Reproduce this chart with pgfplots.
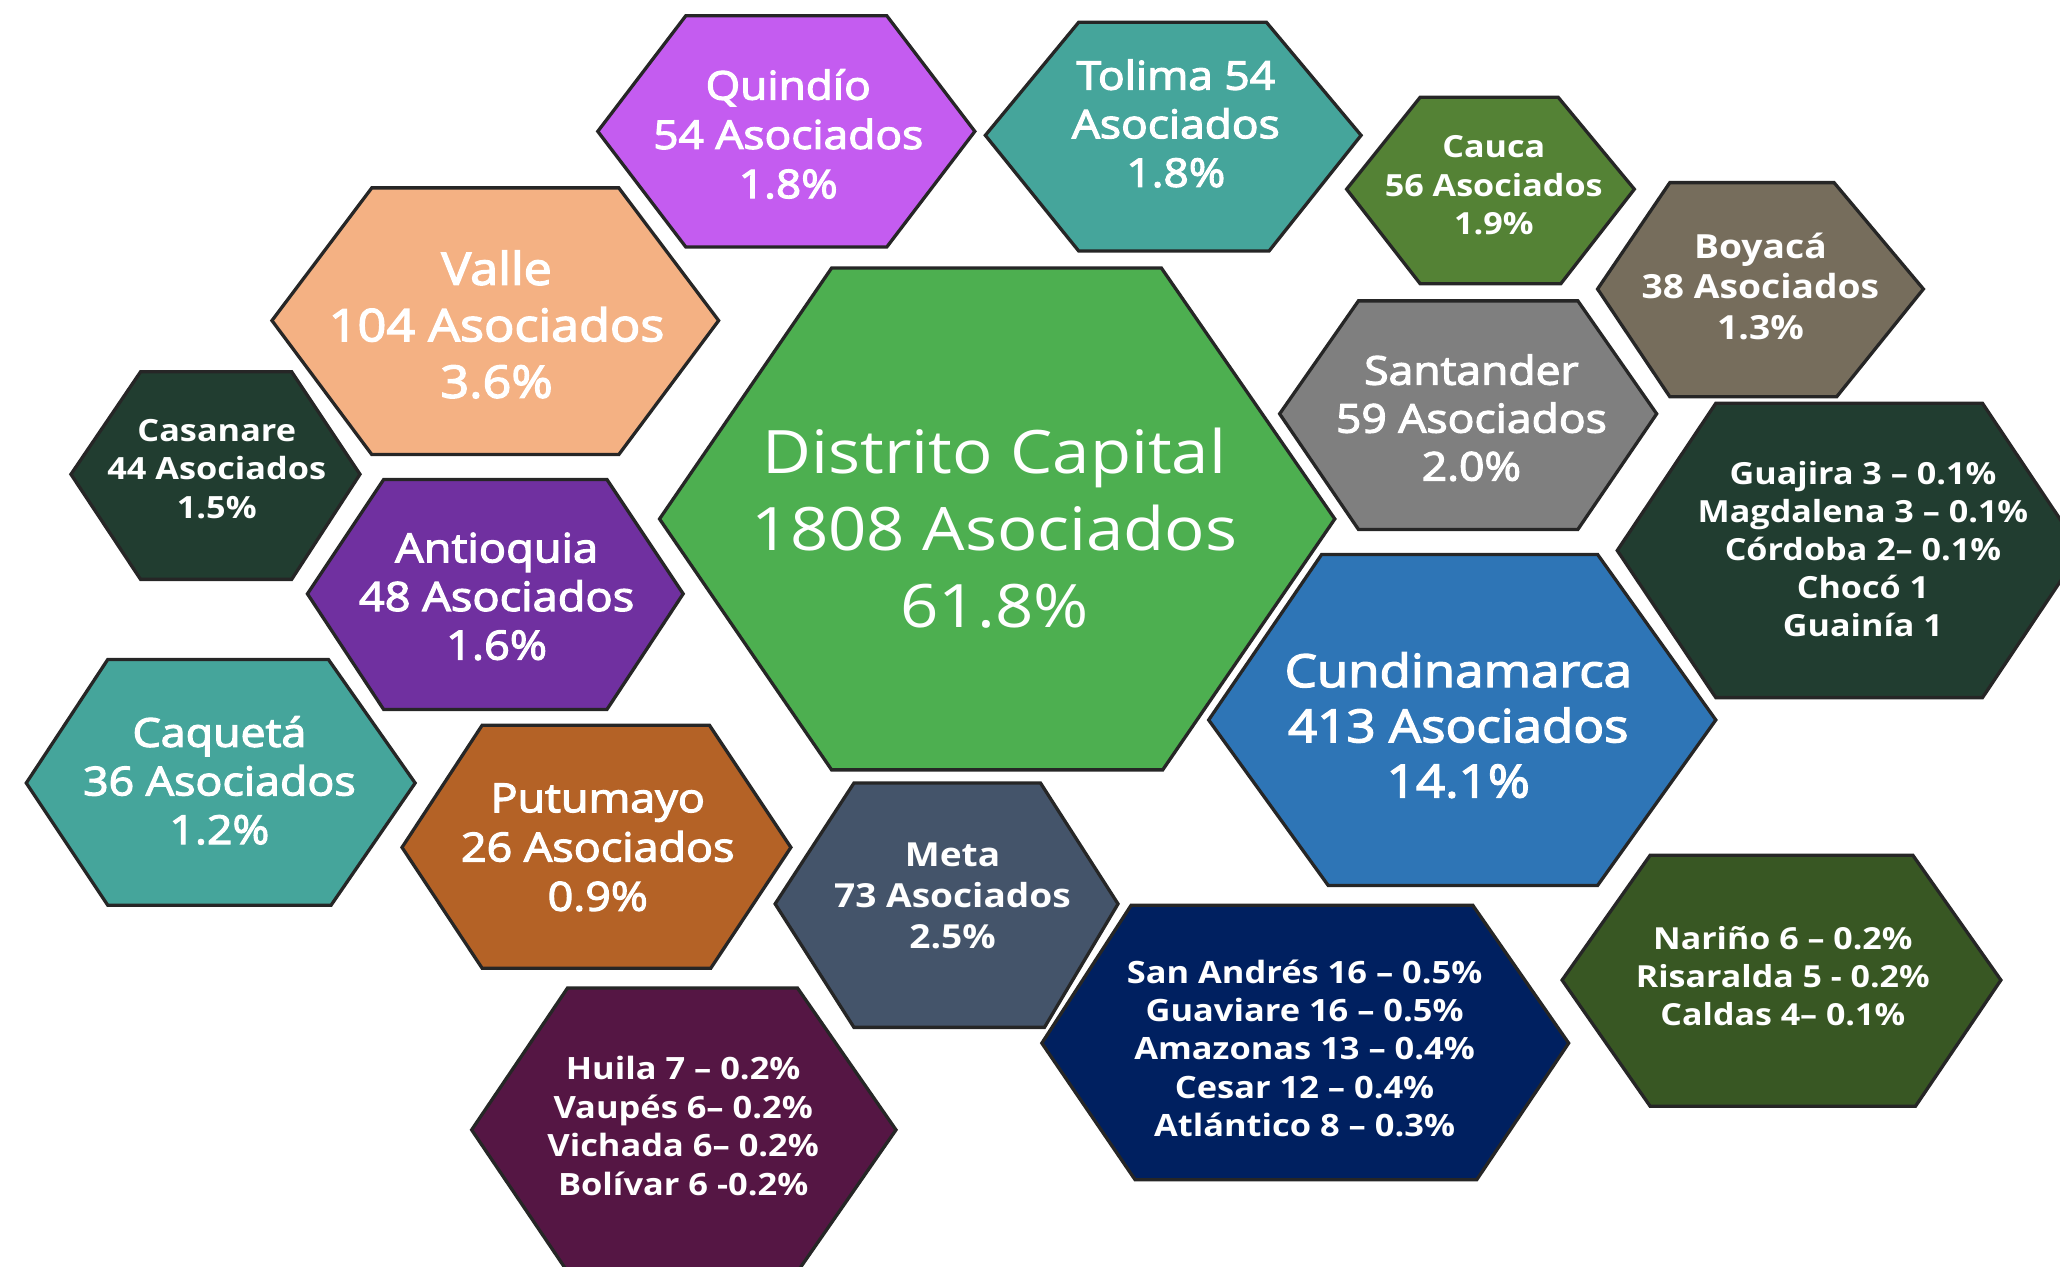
\documentclass[border=0pt]{standalone}
\usepackage{pgfplots}
\pgfplotsset{compat=1.18}
\usepackage{fontspec}
\setmainfont{Open Sans}[FakeStretch=1.12]
\newfontfamily\semib{Open Sans}[FakeStretch=1.12, FakeBold=3]
\definecolor{cQuin}{RGB}{196,92,240}
\definecolor{cTeal}{RGB}{69,165,155}
\definecolor{cCauca}{RGB}{84,130,53}
\definecolor{cBoy}{RGB}{118,109,92}
\definecolor{cValle}{RGB}{244,177,131}
\definecolor{cDC}{RGB}{77,175,80}
\definecolor{cSant}{RGB}{127,127,127}
\definecolor{cDkGreen}{RGB}{33,61,48}
\definecolor{cAnt}{RGB}{112,48,160}
\definecolor{cCund}{RGB}{46,117,182}
\definecolor{cPut}{RGB}{180,98,38}
\definecolor{cMeta}{RGB}{68,84,106}
\definecolor{cNar}{RGB}{56,87,35}
\definecolor{cNavy}{RGB}{0,32,96}
\definecolor{cHuila}{RGB}{85,22,68}
\begin{document}
\begin{tikzpicture}[
  hex/.style={draw=black!85, line width=2.5pt, line join=miter},
  lbl/.style={text=white, align=center, inner sep=0pt},
]
\useasboundingbox (0,0) rectangle (1568pt,964pt);
\begin{axis}[
  at={(0,0)}, anchor=south west,
  scale only axis, width=1568pt, height=964pt,
  xmin=0, xmax=1568, ymin=0, ymax=964, y dir=reverse,
  hide axis, clip=true,
]
% Quindio
\addplot[hex, mark=none, fill=cQuin] coordinates {(455,100) (522,12) (675,12) (742,100) (675,188) (522,188)} -- cycle;
% Tolima
\addplot[hex, mark=none, fill=cTeal] coordinates {(750,103) (821,17) (964,17) (1036,103) (966,191) (821,191)} -- cycle;
% Cauca
\addplot[hex, mark=none, fill=cCauca] coordinates {(1025,144) (1081,74) (1186,74) (1244,144) (1188,216) (1081,216)} -- cycle;
% Boyaca
\addplot[hex, mark=none, fill=cBoy] coordinates {(1216,220) (1271,139) (1396,139) (1464,220) (1398,302) (1271,302)} -- cycle;
% Valle
\addplot[hex, mark=none, fill=cValle] coordinates {(207,244) (283,143) (471,143) (547,244) (471,346) (283,346)} -- cycle;
% Distrito Capital
\addplot[hex, mark=none, fill=cDC] coordinates {(502,395) (633,204) (884,204) (1016,395) (885,586) (633,586)} -- cycle;
% Santander
\addplot[hex, mark=none, fill=cSant] coordinates {(974,315) (1034,229) (1201,229) (1261,315) (1201,403) (1034,403)} -- cycle;
% Casanare
\addplot[hex, mark=none, fill=cDkGreen] coordinates {(54,361) (107,283) (222,283) (274,361) (222,441) (107,441)} -- cycle;
% Antioquia
\addplot[hex, mark=none, fill=cAnt] coordinates {(234,452) (292,365) (462,365) (520,452) (462,540) (292,540)} -- cycle;
% Guajira group
\addplot[hex, mark=none, fill=cDkGreen] coordinates {(1231,419) (1306,307) (1509,307) (1584,419) (1509,531) (1306,531)} -- cycle;
% Cundinamarca
\addplot[hex, mark=none, fill=cCund] coordinates {(920,548) (1006,422) (1216,422) (1306,548) (1216,674) (1011,674)} -- cycle;
% Caqueta
\addplot[hex, mark=none, fill=cTeal] coordinates {(20,596) (82,502) (250,502) (316,596) (252,689) (82,689)} -- cycle;
% Putumayo
\addplot[hex, mark=none, fill=cPut] coordinates {(306,645) (367,552) (540,552) (602,645) (541,737) (367,737)} -- cycle;
% Meta
\addplot[hex, mark=none, fill=cMeta] coordinates {(590,688) (650,596) (792,596) (851,688) (795,782) (650,782)} -- cycle;
% Narino group
\addplot[hex, mark=none, fill=cNar] coordinates {(1189,746) (1256,651) (1456,651) (1523,746) (1458,842) (1256,842)} -- cycle;
% San Andres group
\addplot[hex, mark=none, fill=cNavy] coordinates {(793,794) (861,689) (1121,689) (1194,794) (1124,898) (864,898)} -- cycle;
% Huila group
\addplot[hex, mark=none, fill=cHuila] coordinates {(359,860) (432,752) (607,752) (682,860) (607,968) (432,968)} -- cycle;

\node[lbl, font=\semib\fontsize{30.1}{37.5}\selectfont] at (axis cs:600,102) {Quindío\\54 Asociados\\1.8\%};
\node[lbl, font=\semib\fontsize{30.1}{37}\selectfont] at (axis cs:895,94) {Tolima 54\\Asociados\\1.8\%};
\node[lbl, font=\bfseries\fontsize{23.2}{29}\selectfont] at (axis cs:1137,141) {Cauca\\56 Asociados\\1.9\%};
\node[lbl, font=\bfseries\fontsize{25.3}{31}\selectfont] at (axis cs:1340,218) {Boyacá\\38 Asociados\\1.3\%};
\node[lbl, font=\semib\fontsize{34.2}{43}\selectfont] at (axis cs:378,247) {Valle\\104 Asociados\\3.6\%};
\node[lbl, font=\fontsize{45.6}{58.5}\selectfont] at (axis cs:757,402) {Distrito Capital\\1808 Asociados\\61.8\%};
\node[lbl, font=\semib\fontsize{30.2}{36.5}\selectfont] at (axis cs:1120,318) {Santander\\59 Asociados\\2.0\%};
\node[lbl, font=\bfseries\fontsize{23.3}{29.5}\selectfont] at (axis cs:165,357) {Casanare\\44 Asociados\\1.5\%};
\node[lbl, font=\semib\fontsize{30.7}{37}\selectfont] at (axis cs:378,454) {Antioquia\\48 Asociados\\1.6\%};
\node[lbl, font=\bfseries\fontsize{23.2}{29}\selectfont] at (axis cs:1418,418) {Guajira 3 – 0.1\%\\Magdalena 3 – 0.1\%\\Córdoba 2– 0.1\%\\Chocó 1\\Guainía 1};
\node[lbl, font=\semib\fontsize{34.7}{42}\selectfont] at (axis cs:1110,552) {Cundinamarca\\413 Asociados\\14.1\%};
\node[lbl, font=\semib\fontsize{30.4}{37}\selectfont] at (axis cs:167,594) {Caquetá\\36 Asociados\\1.2\%};
\node[lbl, font=\semib\fontsize{30.5}{37.5}\selectfont] at (axis cs:455,645) {Putumayo\\26 Asociados\\0.9\%};
\node[lbl, font=\bfseries\fontsize{25.2}{31.5}\selectfont] at (axis cs:725,682) {Meta\\73 Asociados\\2.5\%};
\node[lbl, font=\bfseries\fontsize{23.1}{29}\selectfont] at (axis cs:1357,743) {Nariño 6 – 0.2\%\\Risaralda 5 - 0.2\%\\Caldas 4– 0.1\%};
\node[lbl, font=\bfseries\fontsize{23.4}{29.2}\selectfont] at (axis cs:993,798) {San Andrés 16 – 0.5\%\\Guaviare 16 – 0.5\%\\Amazonas 13 – 0.4\%\\Cesar 12 – 0.4\%\\Atlántico 8 – 0.3\%};
\node[lbl, font=\bfseries\fontsize{23.4}{29.3}\selectfont] at (axis cs:520,857) {Huila 7 – 0.2\%\\Vaupés 6– 0.2\%\\Vichada 6– 0.2\%\\Bolívar 6 -0.2\%};
\end{axis}
\end{tikzpicture}
\end{document}
